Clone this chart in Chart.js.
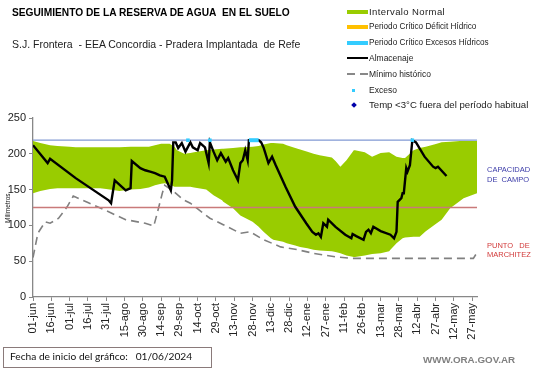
<!DOCTYPE html>
<html>
<head>
<meta charset="utf-8">
<script src="https://cdn.jsdelivr.net/npm/chart.js@4"></script>
<style>
  body { margin: 0; width: 541px; height: 368px; position: relative; overflow: hidden; background: #fff;
         font-family: "Liberation Sans", Arial, sans-serif; }
  #c { position: absolute; left: 0; top: 0; }
  .txt { position: absolute; white-space: nowrap; }
  .leg { position: absolute; left: 347px; font-size: 8.5px; color: #222; }
  .leg span.sw { position: absolute; left: 0; top: 0; }
  .leg span.lb { position: absolute; left: 22px; top: -5px; white-space: nowrap; }
</style>
</head>
<body>
<canvas id="c" width="541" height="368"></canvas>

<div class="txt" style="left:12px;top:7px;font-size:10.2px;font-weight:bold;color:#000">SEGUIMIENTO DE LA RESERVA DE AGUA&nbsp; EN EL SUELO</div>
<div class="txt" style="left:12px;top:38px;font-size:10.5px;color:#222;width:288px;overflow:hidden">S.J. Frontera&nbsp; - EEA Concordia - Pradera Implantada&nbsp; de Referencia</div>

<div class="leg" style="top:12px"><span class="sw" style="width:21px;height:4px;top:-2px;background:#99cc00"></span><span class="lb" style="font-size:9.5px;letter-spacing:0.4px;top:-6px">Intervalo Normal</span></div>
<div class="leg" style="top:27px"><span class="sw" style="width:21px;height:4px;top:-2px;background:#ffc000"></span><span class="lb" style="font-size:8.2px">Periodo Crítico Déficit Hídrico</span></div>
<div class="leg" style="top:43px"><span class="sw" style="width:21px;height:4px;top:-2px;background:#33ccff"></span><span class="lb" style="font-size:8.2px">Periodo Crítico Excesos Hídricos</span></div>
<div class="leg" style="top:58px"><span class="sw" style="width:21px;height:2px;top:-1px;background:#000"></span><span class="lb">Almacenaje</span></div>
<div class="leg" style="top:74px"><span class="sw" style="width:8px;height:2px;top:-1px;background:#888"></span><span class="sw" style="left:13px;width:8px;height:2px;top:-1px;background:#888"></span><span class="lb">Mínimo histórico</span></div>
<div class="leg" style="top:90px"><span class="sw" style="left:5px;width:3px;height:3px;top:-1px;background:#33ccff"></span><span class="lb">Exceso</span></div>
<div class="leg" style="top:105px"><span class="sw" style="left:5px;width:4px;height:4px;top:-2px;background:#0000aa;transform:rotate(45deg)"></span><span class="lb" style="font-size:9.6px;top:-6px">Temp &lt;3°C fuera del período habitual</span></div>

<div class="txt" style="left:4px;top:223px;font-size:6.5px;color:#222;transform:rotate(-90deg);transform-origin:0 0">Milimetros</div>

<div class="txt" style="left:487px;top:165px;font-size:7.5px;color:#3b3ba8;line-height:10px">CAPACIDAD<br>DE&nbsp; CAMPO</div>
<div class="txt" style="left:487px;top:241px;font-size:7.5px;color:#d23a3a;line-height:9px">PUNTO&nbsp;&nbsp; DE<br>MARCHITEZ</div>

<div class="txt" style="left:3px;top:347px;width:207px;height:19px;border:1px solid #8a7a7a;"></div>
<div class="txt" style="left:10px;top:350px;font-size:10.2px;color:#111;font-family:Lato,'Liberation Sans',sans-serif">Fecha de inicio del gráfico:&nbsp;&nbsp; 01/06/2024</div>
<div class="txt" style="left:423px;top:354px;font-size:9.8px;font-weight:bold;color:#808080">WWW.ORA.GOV.AR</div>

<script>
// x axis tick labels, every 15 days from 01-jun
const tickLabels = ["01-jun","16-jun","01-jul","16-jul","31-jul","15-ago","30-ago","14-sep","29-sep",
  "14-oct","29-oct","13-nov","28-nov","13-dic","28-dic","12-ene","27-ene","11-feb","26-feb",
  "13-mar","28-mar","12-abr","27-abr","12-may","27-may"];
const tickDays = tickLabels.map((l, i) => i * 15);

// normal interval band (days since 01-jun)
const bandDays = [0, 6, 14, 20, 30, 35, 55, 60, 71, 80, 88, 95, 100, 105, 108, 112, 116, 118, 124, 129, 132, 142, 148, 155, 156, 164, 170, 172, 180, 185, 189, 195, 197, 205, 208, 215, 219, 225, 230, 235, 245, 248, 252, 257, 263, 264, 272, 275, 278, 285, 292, 293, 298, 303, 305, 312, 317, 322, 331, 335, 342, 350, 353, 364];
const bandHigh = [218, 215, 212, 211, 210, 209, 209, 209, 209, 210, 210, 210, 212, 214, 214, 214, 210, 205, 200, 201, 202, 205, 206, 207, 207, 208, 209, 209, 210, 211, 213, 215, 215, 214, 212, 208, 206, 203, 200, 198, 195, 190, 182, 191, 205, 205, 202, 199, 196, 201, 202, 201, 196, 194, 194, 205, 208, 210, 214, 216, 217, 218, 218, 218];
const bandLow = [145, 148, 151, 152, 152, 152, 152, 151, 148, 150, 151, 153, 156, 158, 159, 157, 154, 154, 154, 154, 153, 150, 142, 135, 133, 124, 114, 112, 105, 98, 91, 82, 80, 77, 75, 72, 70, 68, 66, 65, 64, 63, 61, 58, 56, 56, 58, 59, 60, 61, 64, 66, 75, 82, 83, 84, 84, 92, 103, 108, 124, 134, 138, 145];

// soil water storage (Almacenaje)
const almDays = [0, 12, 14, 35, 62, 64, 67, 76, 80, 81, 88, 92, 96, 100, 104, 108, 113, 114, 115, 117, 119, 122, 125, 129, 131, 135, 137, 141, 144, 145, 148, 151, 154, 158, 160, 164, 168, 170, 172, 174, 176, 177, 185, 187, 189, 193, 196, 199, 207, 215, 224, 229, 232, 234, 236, 238, 241, 242, 248, 256, 261, 262, 265, 271, 273, 275, 277, 279, 285, 293, 296, 298, 299, 302, 303, 304, 306, 307, 309, 311, 314, 321, 328, 330, 332, 339];
const almVals = [212, 187, 193, 166, 135, 131, 163, 149, 152, 190, 180, 177, 175, 173, 170, 168, 149, 163, 216, 216, 208, 215, 203, 216, 209, 205, 215, 209, 187, 216, 203, 191, 201, 189, 194, 177, 163, 187, 191, 205, 191, 219, 219, 216, 209, 187, 196, 184, 154, 126, 103, 91, 87, 89, 84, 103, 98, 108, 98, 87, 82, 88, 85, 80, 91, 94, 89, 98, 92, 87, 82, 91, 133, 138, 145, 145, 180, 175, 184, 219, 216, 196, 182, 180, 182, 169];

// historical minimum
const minDays = [0, 4, 10, 14, 21, 28, 33, 45, 62, 76, 92, 99, 102, 106, 108, 115, 123, 129, 145, 156, 170, 178, 189, 203, 217, 230, 248, 262, 300, 340, 361, 364];
const minVals = [55, 89, 105, 103, 110, 126, 141, 132, 119, 108, 103, 99, 118, 145, 156, 148, 136, 131, 110, 101, 89, 91, 80, 70, 66, 61, 56, 54, 54, 54, 54, 62];

// excess markers and critical excess period
const excesoDays = [127, 145, 311];
const excesoVals = [219, 219, 219];
const excPeriodDays = [177, 185];
const excPeriodVals = [219, 219];

const capacidadCampo = 219;
const puntoMarchitez = 125;

const pts = (xs, ys) => xs.map((x, i) => ({ x: x, y: ys[i] }));

new Chart(document.getElementById("c"), {
  type: "line",
  data: {
    datasets: [
      { data: pts(bandDays, bandLow), borderWidth: 0, pointRadius: 0, fill: false, order: 6 },
      { data: pts(bandDays, bandHigh), borderWidth: 0, pointRadius: 0, fill: "-1",
        backgroundColor: "#99cc00", order: 5 },
      { data: pts([0, 364], [capacidadCampo, capacidadCampo]), borderColor: "#8199d3", borderWidth: 1.2,
        pointRadius: 0, order: 3 },
      { data: pts([0, 364], [puntoMarchitez, puntoMarchitez]), borderColor: "#c97a7a", borderWidth: 1.5,
        pointRadius: 0, order: 3 },
      { data: pts(minDays, minVals), borderColor: "#808080", borderWidth: 1.6, borderDash: [8, 5],
        pointRadius: 0, order: 4 },
      { data: pts(almDays, almVals), borderColor: "#000", borderWidth: 2.4, pointRadius: 0, order: 2 },
      { data: pts(excPeriodDays, excPeriodVals), borderColor: "#33ccff", borderWidth: 4, pointRadius: 0, order: 1 },
      { data: pts(excesoDays, excesoVals), showLine: false, pointRadius: 2.5, pointStyle: "rect",
        backgroundColor: "#33ccff", borderWidth: 0, order: 0 }
    ]
  },
  options: {
    responsive: false,
    animation: false,
    layout: { padding: { left: 0, right: 64, top: 118, bottom: 0 } },
    plugins: { legend: { display: false }, tooltip: { enabled: false } },
    scales: {
      x: {
        type: "linear", min: 0, max: 364,
        afterBuildTicks: (s) => { s.ticks = tickDays.map(v => ({ value: v })); },
        afterFit: (s) => { s.height = 71; },
        ticks: {
          autoSkip: false, maxRotation: 90, minRotation: 90, color: "#222", padding: 2,
          font: { family: "Liberation Sans", size: 11 },
          callback: (v) => tickLabels[Math.round(v / 15)]
        },
        grid: { drawOnChartArea: false, tickLength: 4, color: "#888" },
        border: { color: "#888", width: 1.3 }
      },
      y: {
        min: 0, max: 250,
        afterFit: (s) => { s.width = 33; },
        ticks: { stepSize: 50, color: "#222", padding: 3, font: { family: "Liberation Sans", size: 11 } },
        grid: { drawOnChartArea: false, tickLength: 4, color: "#888" },
        border: { color: "#888", width: 1.3 }
      }
    }
  }
});
</script>
</body>
</html>
